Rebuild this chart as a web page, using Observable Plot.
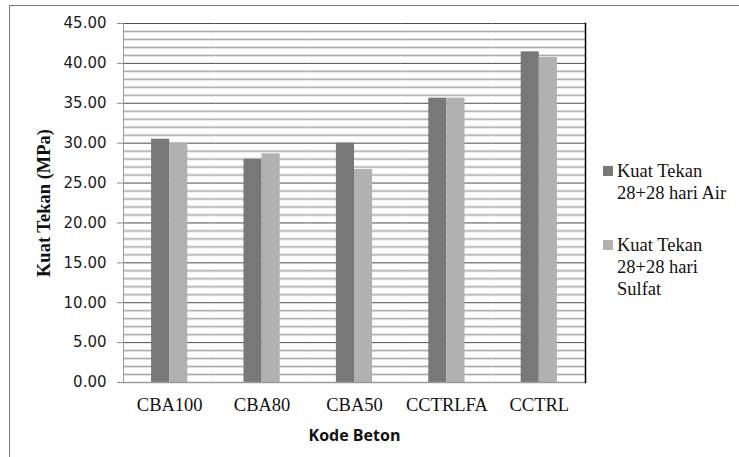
<!DOCTYPE html>
<html>
<head>
<meta charset="utf-8">
<script src="https://cdn.jsdelivr.net/npm/d3@7"></script>
<script src="https://cdn.jsdelivr.net/npm/@observablehq/plot@0.6"></script>
<style>
  body { margin: 0; background: #fff; }
  #wrap { position: relative; width: 739px; height: 457px; overflow: hidden; background: #fff; }
  #border { position: absolute; left: 9px; top: 5px; right: 0; bottom: -5px;
            border-top: 1px solid #7a7a7a; border-left: 1px solid #7a7a7a; }
  #chart { position: absolute; left: 0; top: 0; }
  #legend { position: absolute; left: 603px; top: 160px; font-family: "Liberation Serif", serif;
            font-size: 18.5px; line-height: 22px; color: #111; }
  .item { display: flex; align-items: flex-start; margin-bottom: 30px; }
  .sw { width: 10px; height: 10px; margin-top: 6px; margin-right: 4px; flex: none; }
  .lab { width: 122px; }
</style>
</head>
<body>
<div id="wrap">
  <div id="border"></div>
  <div id="chart"></div>
  <div id="legend"></div>
</div>
<script>
// Concrete mix codes and compressive strength (MPa) after 28+28 days
const kode = ["CBA100", "CBA80", "CBA50", "CCTRLFA", "CCTRL"];
const seri = ["Kuat Tekan 28+28 hari Air", "Kuat Tekan 28+28 hari Sulfat"];
const air = [30.50, 27.99, 30.00, 35.64, 41.45];
const sulfat = [29.96, 28.66, 26.70, 35.64, 40.74];
const yTicks = [0, 5, 10, 15, 20, 25, 30, 35, 40, 45];
const warna = ["#787878", "#b1b1b1"];

const rows = kode.flatMap((k, i) => [
  {kode: k, seri: seri[0], nilai: air[i]},
  {kode: k, seri: seri[1], nilai: sulfat[i]}
]);

const minor = d3.range(0, 46).filter(v => v % 5 !== 0);
const major = yTicks.filter(v => v > 0);

const chart = Plot.plot({
  width: 739,
  height: 457,
  marginLeft: 123,
  marginRight: 154,
  marginTop: 23,
  marginBottom: 75,
  style: {background: "transparent", overflow: "visible"},
  fx: {domain: kode, padding: 0, round: false},
  x: {domain: seri, paddingInner: 0, paddingOuter: 1.55, round: false, axis: null},
  y: {domain: [0, 45]},
  color: {domain: seri, range: warna},
  marks: [
    // minor gridlines every 1 MPa
    Plot.ruleY(minor, {stroke: "#e3e3e3", strokeWidth: 3}),
    Plot.ruleY(minor, {stroke: "#a9a9a9", strokeWidth: 1}),
    // major gridlines every 5 MPa
    Plot.ruleY(major, {stroke: "#4d4d4d", strokeWidth: 1}),
    Plot.barY(rows, {fx: "kode", x: "seri", y: "nilai", fill: "seri"}),
    Plot.ruleY([0], {stroke: "#9a9a9a", strokeWidth: 1.5}),
    Plot.frame({anchor: "left", facetAnchor: "left", stroke: "#9a9a9a"}),
    Plot.frame({anchor: "right", facetAnchor: "right", stroke: "#000", strokeWidth: 1.5}),
    Plot.axisY({
      ticks: yTicks, tickSize: 6, tickPadding: 11, tickFormat: d => d.toFixed(2),
      fontFamily: "DejaVu Sans", fontSize: 15, fill: "#1a1a1a", stroke: "#8a8a8a", label: null
    }),
    Plot.axisY({
      ticks: [], label: "Kuat Tekan (MPa)", labelAnchor: "center", labelArrow: "none", labelOffset: 87,
      fontFamily: "Liberation Serif", fontWeight: "bold", fontSize: 18.5, fill: "#111"
    }),
    Plot.axisFx({
      anchor: "bottom", tickSize: 0, tickPadding: 15, label: null,
      fontFamily: "Liberation Serif", fontSize: 18.5, fill: "#111"
    }),
    Plot.axisFx({
      anchor: "bottom", ticks: [], label: "Kode Beton", labelAnchor: "center", labelArrow: "none", labelOffset: 58,
      fontFamily: "Open Sans", fontWeight: "bold", fontSize: 16, fill: "#111"
    })
  ]
});
document.getElementById("chart").append(chart);

// legend on the right
const legend = document.getElementById("legend");
seri.forEach((s, i) => {
  const item = document.createElement("div");
  item.className = "item";
  const sw = document.createElement("div");
  sw.className = "sw";
  sw.style.background = warna[i];
  const lab = document.createElement("div");
  lab.className = "lab";
  lab.textContent = s;
  item.append(sw, lab);
  legend.append(item);
});
</script>
</body>
</html>
